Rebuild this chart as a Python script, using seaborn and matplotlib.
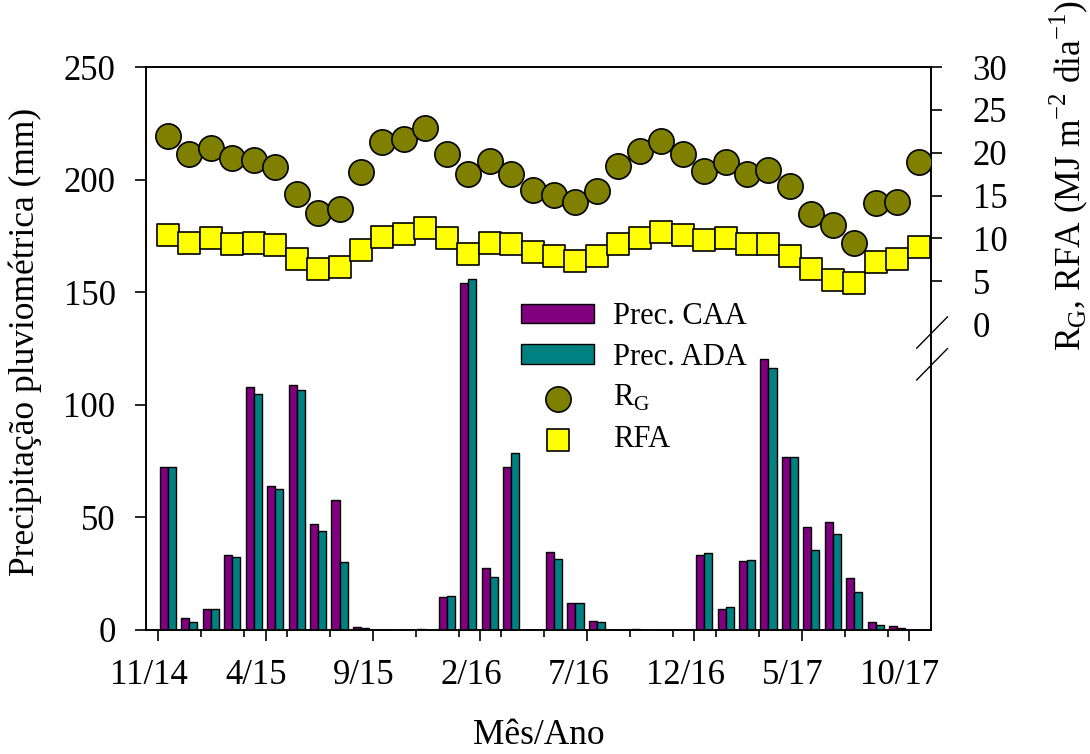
import numpy as np
import pandas as pd
import seaborn as sns
import matplotlib.pyplot as plt
from matplotlib.transforms import ScaledTranslation

# Monthly data, 11/14 .. 10/17 (36 months)
prec_caa = [72.5, 5.5, 9.2, 33.3, 108.0, 64.0, 109.0, 47.0, 57.6, 1.5, 0.0, 0.0,
            0.5, 14.5, 154.2, 27.7, 72.2, 0.0, 34.8, 11.8, 4.1, 0.0, 0.3, 0.0,
            0.0, 33.3, 9.2, 30.6, 120.2, 77.0, 45.9, 47.8, 23.0, 3.4, 1.8, 0.0]
prec_ada = [72.5, 3.7, 9.2, 32.4, 104.6, 62.4, 106.4, 43.8, 30.3, 0.9, 0.0, 0.0,
            0.0, 15.0, 156.0, 23.4, 78.4, 0.0, 31.7, 11.8, 3.7, 0.0, 0.0, 0.0,
            0.0, 34.3, 10.4, 31.2, 116.3, 77.0, 35.5, 42.6, 17.0, 2.4, 1.0, 0.0]
rg = [21.9, 19.9, 20.6, 19.4, 19.1, 18.3, 15.2, 13.0, 13.4, 17.8, 21.2, 21.6,
      22.9, 19.8, 17.5, 19.0, 17.5, 15.7, 15.1, 14.2, 15.5, 18.4, 20.2, 21.4,
      19.8, 17.9, 18.9, 17.5, 18.0, 16.1, 12.9, 11.6, 9.5, 14.1, 14.3, 18.9]
rfa = [10.4, 9.5, 10.0, 9.3, 9.5, 9.2, 7.6, 6.4, 6.7, 8.7, 10.2, 10.5,
       11.2, 10.1, 8.2, 9.5, 9.3, 8.4, 8.0, 7.4, 8.0, 9.3, 10.0, 10.7,
       10.4, 9.8, 10.1, 9.3, 9.4, 7.9, 6.4, 5.2, 4.8, 7.2, 7.6, 9.0]
tick_labels = ['11/14', '4/15', '9/15', '2/16', '7/16', '12/16', '5/17', '10/17']

mes = np.arange(len(prec_caa))
df = pd.DataFrame({
    'mes': np.concatenate([mes, mes]),
    'prec': prec_caa + prec_ada,
    'serie': ['Prec. CAA'] * len(mes) + ['Prec. ADA'] * len(mes),
})

sns.set_style('ticks')
plt.rcParams['font.family'] = ['Liberation Serif', 'DejaVu Serif']
plt.rcParams['mathtext.fontset'] = 'custom'
plt.rcParams['mathtext.rm'] = 'Liberation Serif'
plt.rcParams['axes.linewidth'] = 1.2
for k in ['text.color', 'axes.labelcolor', 'axes.edgecolor', 'xtick.color', 'ytick.color']:
    plt.rcParams[k] = 'black'

fs_tick = 25
fs_lab = 25.5
fs_leg = 22

fig = plt.figure(figsize=(10.9, 7.54), dpi=100)
ax = fig.add_axes([0.134, 0.1645, 0.72, 0.7465])

sns.barplot(data=df, x='mes', y='prec', hue='serie', palette=['#800080', '#008080'],
            width=0.75, edgecolor='black', linewidth=1, saturation=1, ax=ax)

ax2 = ax.twinx()
sns.scatterplot(x=mes, y=rg, marker='o', s=330, color='#808000', edgecolor='black',
                linewidth=1.2, label=r'R$_\mathregular{G}$', ax=ax2, zorder=3)
sns.scatterplot(x=mes, y=rfa, marker='s', s=270, color='#ffff00', edgecolor='black',
                linewidth=1.2, label='RFA', ax=ax2, zorder=3)

# axes ranges
ax.set_xlim(-1.02, 35.57)
ax.set_ylim(0, 250)
ax2.set_ylim(-35.7, 30)

# x ticks: major every 5 months, minor every 2
ax.set_xticks(np.arange(8) * 5 - 0.45)
ax.set_xticklabels(tick_labels, fontsize=fs_tick)
ax.set_xticks(np.arange(18) * 2 - 0.45, minor=True)
ax.tick_params(axis='x', which='major', length=8, width=1.2, pad=13, direction='out')
ax.tick_params(axis='x', which='minor', length=5, width=1.2, direction='out')
for lbl in ax.get_xticklabels():
    lbl.set_transform(lbl.get_transform() + ScaledTranslation(-0.09, 0, fig.dpi_scale_trans))

ax.set_yticks(np.arange(0, 251, 50))
ax.tick_params(axis='y', labelsize=fs_tick, length=8, width=1.2, pad=14, direction='out')

ax2.set_yticks(np.arange(0, 31, 5))
ax2.tick_params(axis='y', labelsize=fs_tick, length=8, width=1.2, pad=22, direction='out')
ax2.yaxis.get_major_ticks()[0].tick2line.set_visible(False)

ax.set_xlabel('Mês/Ano', fontsize=fs_lab)
ax.xaxis.set_label_coords(0.5, -0.158)
ax.set_ylabel('Precipitação pluviométrica (mm)', fontsize=fs_lab)
ax.yaxis.set_label_coords(-0.133, 0.511)
ax2.set_ylabel(r'R$_\mathregular{G}$, RFA (MJ m$^\mathregular{-2}$ dia$^\mathregular{-1}$)',
               fontsize=fs_lab)
ax2.yaxis.set_label_coords(1.148, 0.808)

# axis break marks on right spine
for y0 in (0.444, 0.5004):
    ax2.plot([0.9818, 1.0213], [y0, y0 + 0.0561], transform=ax2.transAxes,
             color='black', linewidth=1, clip_on=False)

# combined legend
h1, l1 = ax.get_legend_handles_labels()
h2, l2 = ax2.get_legend_handles_labels()
ax.get_legend().remove()
ax2.legend(h1 + h2, l1 + l2, loc='upper left', bbox_to_anchor=(521 / 1090, 1 - 302 / 754),
           bbox_transform=fig.transFigure, frameon=False, fontsize=fs_leg,
           handlelength=2.4, handleheight=0.6, handletextpad=0.6, labelspacing=0.38,
           borderpad=0, borderaxespad=0)

fig.savefig('out.png', dpi=100)
